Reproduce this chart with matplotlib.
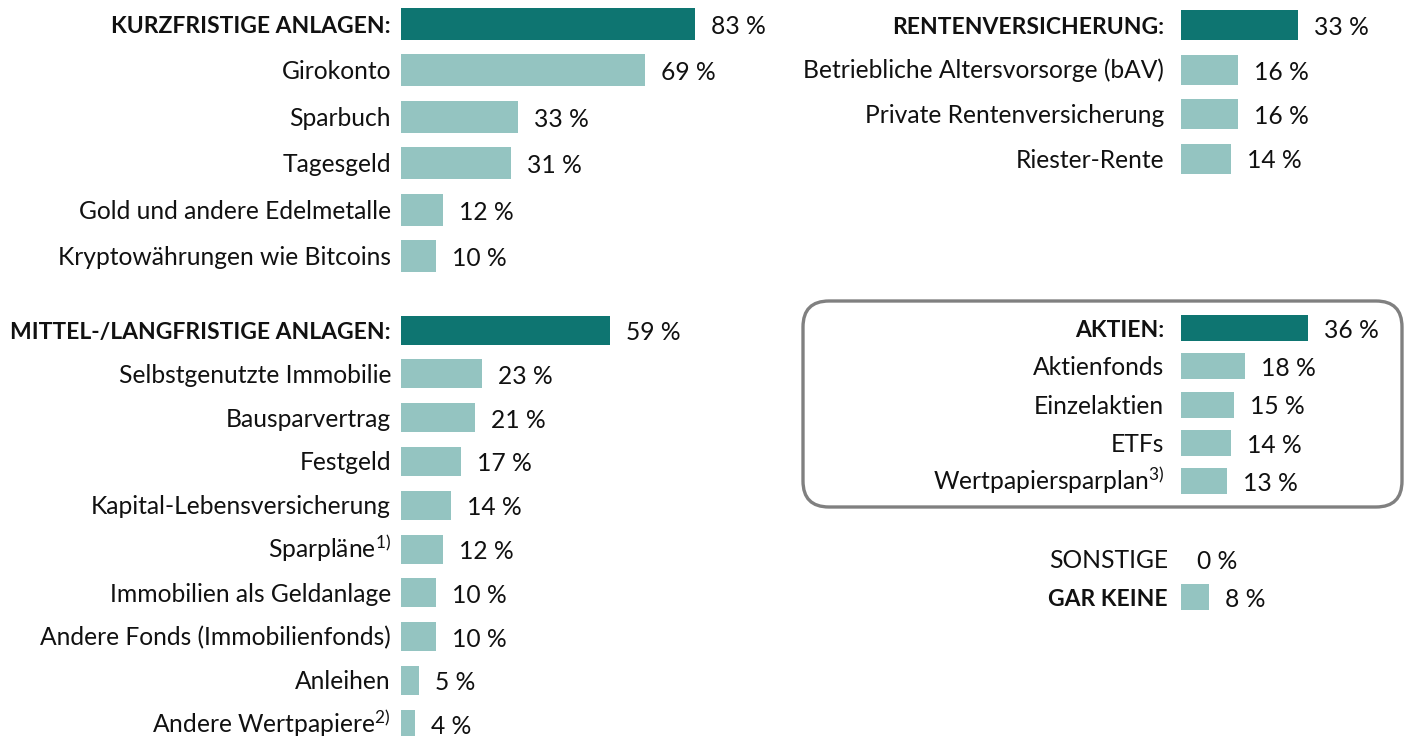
import matplotlib
matplotlib.use("Agg")
import matplotlib.pyplot as plt
from matplotlib.patches import FancyBboxPatch
from matplotlib.transforms import IdentityTransform

# ---------------- data ----------------
kurz_labels = ["KURZFRISTIGE ANLAGEN:", "Girokonto", "Sparbuch", "Tagesgeld",
               "Gold und andere Edelmetalle", "Kryptowährungen wie Bitcoins"]
kurz_values = [83, 69, 33, 31, 12, 10]

mittel_labels = ["MITTEL-/LANGFRISTIGE ANLAGEN:", "Selbstgenutzte Immobilie", "Bausparvertrag",
                 "Festgeld", "Kapital-Lebensversicherung", r"Sparpläne$^{\mathregular{1)}}$",
                 "Immobilien als Geldanlage", "Andere Fonds (Immobilienfonds)", "Anleihen",
                 r"Andere Wertpapiere$^{\mathregular{2)}}$"]
mittel_values = [59, 23, 21, 17, 14, 12, 10, 10, 5, 4]

renten_labels = ["RENTENVERSICHERUNG:", "Betriebliche Altersvorsorge (bAV)",
                 "Private Rentenversicherung", "Riester-Rente"]
renten_values = [33, 16, 16, 14]

aktien_labels = ["AKTIEN:", "Aktienfonds", "Einzelaktien", "ETFs",
                 r"Wertpapiersparplan$^{\mathregular{3)}}$"]
aktien_values = [36, 18, 15, 14, 13]

sonst_labels = ["SONSTIGE", "GAR KEINE"]
sonst_values = [0, 8]

# ---------------- style ----------------
W, H = 1404, 736
PX = 3.54           # pixels per percent
DARK = "#0E7571"
LIGHT = "#94C4C1"
FS = 17.7
FS_BOLD = 16.5
LBL_DY = 9
VAL_DY = 10

plt.rcParams["font.family"] = ["Lato", "DejaVu Sans"]
plt.rcParams["mathtext.fontset"] = "custom"
plt.rcParams["mathtext.rm"] = "Lato"
plt.rcParams["mathtext.it"] = "Lato:italic"
plt.rcParams["mathtext.bf"] = "Lato:bold"

fig = plt.figure(figsize=(W / 100, H / 100), dpi=100)
fig.patch.set_facecolor("white")


def panel(x0, right_px, first_c, step, bar_h, labels, values, label_gap,
          bold_idx, dark_idx):
    n = len(labels)
    top = first_c - step / 2
    bottom = first_c + (n - 0.5) * step
    ax = fig.add_axes([x0 / W, 1 - bottom / H, (right_px - x0) / W, (bottom - top) / H])
    ax.set_xlim(0, (right_px - x0) / PX)
    ax.set_ylim(n - 0.5, -0.5)
    ax.axis("off")
    colors = [DARK if i in dark_idx else LIGHT for i in range(n)]
    ax.barh(range(n), values, height=bar_h / step, color=colors, left=0)
    for i, (lab, v) in enumerate(zip(labels, values)):
        bold = i in bold_idx
        ax.annotate(lab, xy=(0, i), xytext=(-label_gap, -LBL_DY),
                    textcoords="offset pixels", ha="right", va="baseline",
                    fontsize=FS_BOLD if bold else FS,
                    fontweight="bold" if bold else "normal",
                    color="#111111", annotation_clip=False)
        ax.annotate(f"{v} %", xy=(v, i), xytext=(16, -VAL_DY),
                    textcoords="offset pixels", ha="left", va="baseline",
                    fontsize=FS, color="#111111", annotation_clip=False)
    return ax


panel(401, 780, 24, 46.4, 32, kurz_labels, kurz_values, 10, {0}, {0})
panel(401, 780, 330, 43.8, 29, mittel_labels, mittel_values, 10, {0}, {0})
panel(1181, 1404, 25, 44.5, 30, renten_labels, renten_values, 17, {0}, {0})
panel(1181, 1404, 328, 38.25, 26, aktien_labels, aktien_values, 17, {0}, {0})
panel(1181, 1404, 559, 38, 26, sonst_labels, sonst_values, 13, {1}, set())

# rounded frame around AKTIEN group (pixel coordinates)
box = FancyBboxPatch((803, H - 507), 599, 206,
                     boxstyle="round,pad=0,rounding_size=26",
                     transform=IdentityTransform(), fill=False,
                     edgecolor="#808080", linewidth=2.4)
fig.add_artist(box)

fig.savefig("out.png", dpi=100)
